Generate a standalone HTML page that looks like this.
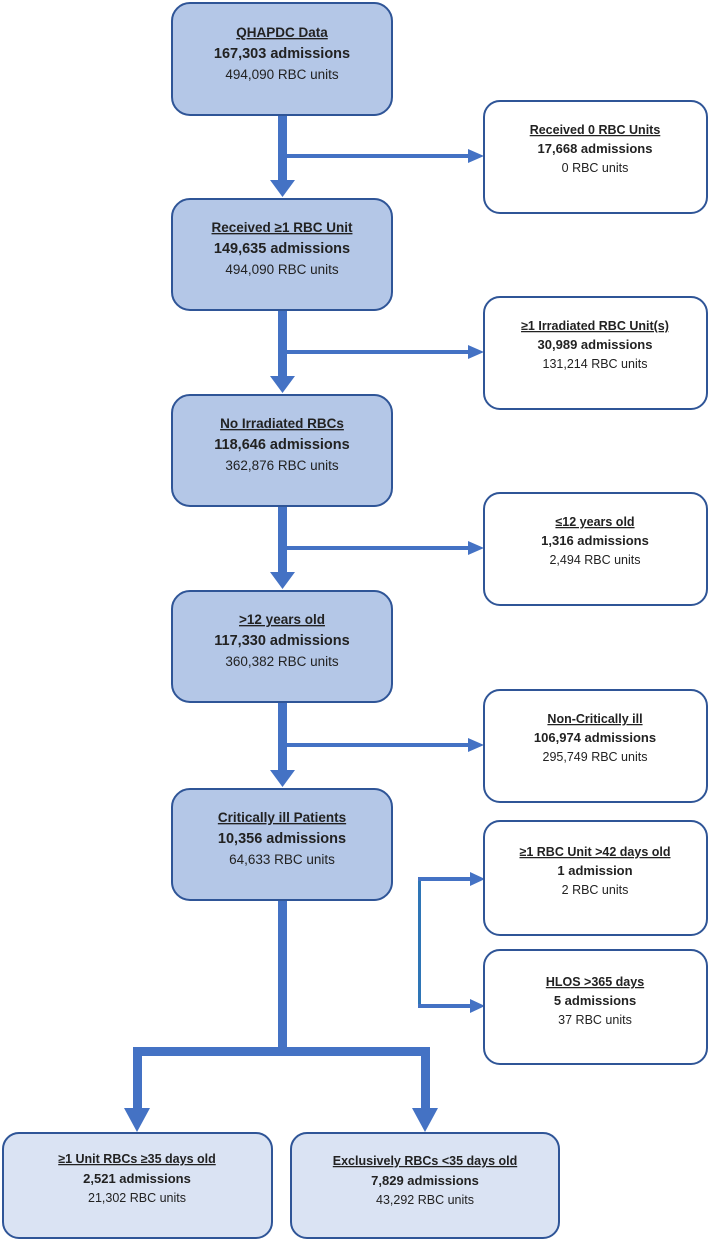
<!DOCTYPE html>
<html><head><meta charset="utf-8"><style>
html,body{margin:0;padding:0;background:#fff}
svg{display:block}
text{font-family:"Liberation Sans",sans-serif;text-anchor:middle;fill:#222}
.t{font-weight:bold;text-decoration:underline;font-size:13.5px}
.b{font-weight:bold;font-size:14.5px}
.n{font-size:13.5px}
.rt{font-weight:bold;text-decoration:underline;font-size:12.5px}
.rb{font-weight:bold;font-size:13px}
.rn{font-size:12.5px}
</style></head><body>
<svg width="709" height="1241" viewBox="0 0 709 1241" xmlns="http://www.w3.org/2000/svg">
<g fill="#4472c4" stroke="none">
<rect x="278" y="115" width="9" height="66"/><polygon points="270,180 295,180 282.5,197"/>
<rect x="278" y="311" width="9" height="66"/><polygon points="270,376 295,376 282.5,393"/>
<rect x="278" y="507" width="9" height="66"/><polygon points="270,572 295,572 282.5,589"/>
<rect x="278" y="703" width="9" height="68"/><polygon points="270,770 295,770 282.5,787"/>
<rect x="287" y="154" width="183" height="4"/><polygon points="468,149 468,163 484,156"/>
<rect x="287" y="350" width="183" height="4"/><polygon points="468,345 468,359 484,352"/>
<rect x="287" y="546" width="183" height="4"/><polygon points="468,541 468,555 484,548"/>
<rect x="287" y="743" width="183" height="4"/><polygon points="468,738 468,752 484,745"/>
<rect x="278" y="900" width="9" height="152"/>
<rect x="133" y="1047" width="296" height="9"/>
<rect x="133" y="1047" width="9" height="62"/><polygon points="124,1108 150,1108 137,1132"/>
<rect x="421" y="1047" width="9" height="62"/><polygon points="412,1108 438,1108 425,1132"/>
<rect x="418" y="877" width="3" height="131" fill="#2e75b6"/>
<rect x="418" y="877" width="54" height="4"/><polygon points="470,872 470,886 485,879"/>
<rect x="418" y="1004" width="54" height="4"/><polygon points="470,999 470,1013 485,1006"/>
</g>
<g stroke="#2f5597" stroke-width="2">
<rect x="172" y="3" width="220" height="112" rx="18" fill="#b4c7e7"/>
<rect x="172" y="199" width="220" height="111" rx="18" fill="#b4c7e7"/>
<rect x="172" y="395" width="220" height="111" rx="18" fill="#b4c7e7"/>
<rect x="172" y="591" width="220" height="111" rx="18" fill="#b4c7e7"/>
<rect x="172" y="789" width="220" height="111" rx="18" fill="#b4c7e7"/>
<rect x="484" y="101" width="223" height="112" rx="16" fill="#fff"/>
<rect x="484" y="297" width="223" height="112" rx="16" fill="#fff"/>
<rect x="484" y="493" width="223" height="112" rx="16" fill="#fff"/>
<rect x="484" y="690" width="223" height="112" rx="16" fill="#fff"/>
<rect x="484" y="821" width="223" height="114" rx="16" fill="#fff"/>
<rect x="484" y="950" width="223" height="114" rx="16" fill="#fff"/>
<rect x="3" y="1133" width="269" height="105" rx="16" fill="#dae3f3"/>
<rect x="291" y="1133" width="268" height="105" rx="16" fill="#dae3f3"/>
</g>
<text x="282" y="37" class="t">QHAPDC Data</text><text x="282" y="58" class="b">167,303 admissions</text><text x="282" y="79" class="n">494,090 RBC units</text>
<text x="282" y="232" class="t">Received ≥1 RBC Unit</text><text x="282" y="253" class="b">149,635 admissions</text><text x="282" y="274" class="n">494,090 RBC units</text>
<text x="282" y="428" class="t">No Irradiated RBCs</text><text x="282" y="449" class="b">118,646 admissions</text><text x="282" y="470" class="n">362,876 RBC units</text>
<text x="282" y="624" class="t">&gt;12 years old</text><text x="282" y="645" class="b">117,330 admissions</text><text x="282" y="666" class="n">360,382 RBC units</text>
<text x="282" y="822" class="t">Critically ill Patients</text><text x="282" y="843" class="b">10,356 admissions</text><text x="282" y="864" class="n">64,633 RBC units</text>
<text x="595" y="134" class="rt">Received 0 RBC Units</text><text x="595" y="153" class="rb">17,668 admissions</text><text x="595" y="172" class="rn">0 RBC units</text>
<text x="595" y="330" class="rt">≥1 Irradiated RBC Unit(s)</text><text x="595" y="349" class="rb">30,989 admissions</text><text x="595" y="368" class="rn">131,214 RBC units</text>
<text x="595" y="526" class="rt">≤12 years old</text><text x="595" y="545" class="rb">1,316 admissions</text><text x="595" y="564" class="rn">2,494 RBC units</text>
<text x="595" y="723" class="rt">Non-Critically ill</text><text x="595" y="742" class="rb">106,974 admissions</text><text x="595" y="761" class="rn">295,749 RBC units</text>
<text x="595" y="856" class="rt">≥1 RBC Unit &gt;42 days old</text><text x="595" y="875" class="rb">1 admission</text><text x="595" y="894" class="rn">2 RBC units</text>
<text x="595" y="986" class="rt">HLOS &gt;365 days</text><text x="595" y="1005" class="rb">5 admissions</text><text x="595" y="1024" class="rn">37 RBC units</text>
<text x="137" y="1163" class="rt">≥1 Unit RBCs ≥35 days old</text><text x="137" y="1183" class="rb">2,521 admissions</text><text x="137" y="1202" class="rn">21,302 RBC units</text>
<text x="425" y="1165" class="rt">Exclusively RBCs &lt;35 days old</text><text x="425" y="1185" class="rb">7,829 admissions</text><text x="425" y="1204" class="rn">43,292 RBC units</text>
</svg>
</body></html>
